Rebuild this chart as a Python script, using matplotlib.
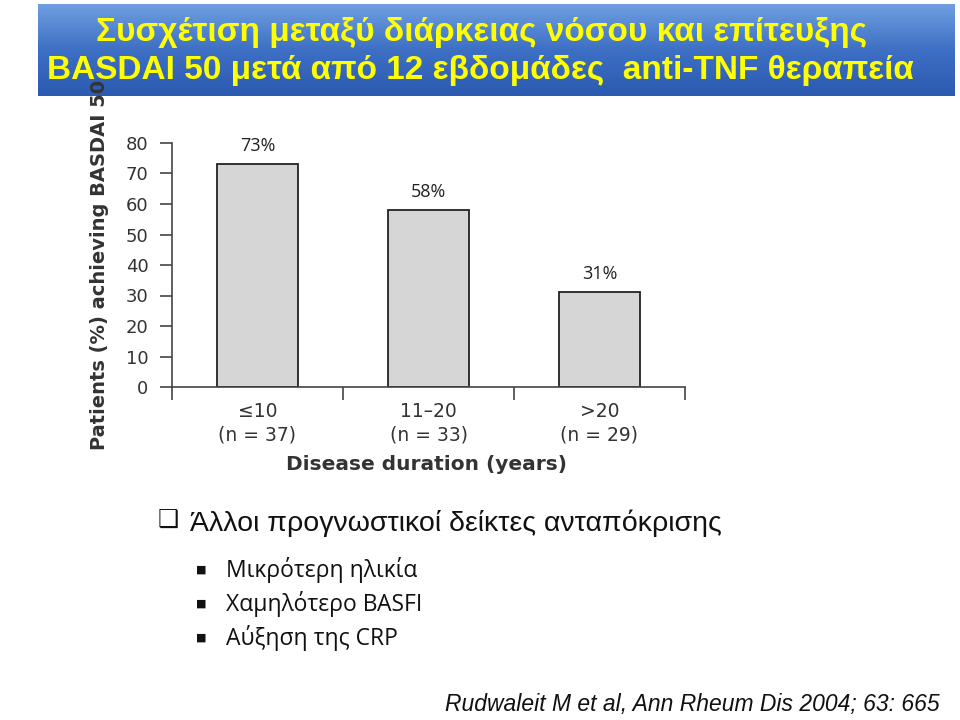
import numpy as np
import matplotlib.pyplot as plt
from matplotlib.colors import LinearSegmentedColormap

# data
categories = ["≤10\n(n = 37)", "11–20\n(n = 33)", ">20\n(n = 29)"]
values = [73, 58, 31]
value_labels = ["73%", "58%", "31%"]
yticks = [0, 10, 20, 30, 40, 50, 60, 70, 80]
title_lines = ["Συσχέτιση μεταξύ διάρκειας νόσου και επίτευξης",
               "BASDAI 50 μετά από 12 εβδομάδες  anti-TNF θεραπεία"]
main_bullet = "Άλλοι προγνωστικοί δείκτες ανταπόκρισης"
sub_bullets = ["Μικρότερη ηλικία", "Χαμηλότερο BASFI", "Αύξηση της CRP"]
citation = "Rudwaleit M et al, Ann Rheum Dis 2004; 63: 665"

W, H = 960, 720
fig = plt.figure(figsize=(9.6, 7.2), dpi=100)

def fx(x): return x / W
def fy(y): return 1 - y / H

# title box with vertical gradient
tax = fig.add_axes([fx(38), fy(96), fx(955) - fx(38), fy(4) - fy(96)])
grad = np.linspace(0, 1, 100).reshape(-1, 1)
cmap = LinearSegmentedColormap.from_list("tb", ["#6f9fe0", "#3d6fc4", "#2b5bb0"])
tax.imshow(grad, aspect="auto", cmap=cmap, extent=[0, 1, 0, 1])
tax.set_axis_off()
fig.text(fx(482), fy(32), title_lines[0], ha="center", va="center",
         fontsize=24, fontweight="bold", color="#ffff00", family="Liberation Sans")
fig.text(fx(480), fy(70), title_lines[1], ha="center", va="center",
         fontsize=24, fontweight="bold", color="#ffff00", family="Liberation Sans")

# bar chart
ax = fig.add_axes([fx(172), fy(387), fx(685) - fx(172), fy(143) - fy(387)])
x = np.arange(len(values))
ax.bar(x, values, width=0.47, color="#d6d6d6", edgecolor="#222222", linewidth=1.3)
for xi, v, lab in zip(x, values, value_labels):
    ax.text(xi, v + 3, lab, ha="center", va="bottom", fontsize=13,
            color="#222222", family="Open Sans")
ax.set_xlim(-0.5, len(values) - 0.5)
ax.set_ylim(0, 80)
ax.set_yticks(yticks)
ax.set_yticklabels([str(t) for t in yticks], fontsize=13, color="#333333")
ax.set_xticks([-0.5, 0.5, 1.5, 2.5])
ax.set_xticklabels([])
for xi, c in zip(x, categories):
    ax.text(xi, -5, c, ha="center", va="top", fontsize=13.5, color="#333333",
            linespacing=1.3)
ax.tick_params(axis="both", direction="out", length=9, width=1.2, color="#444444")
ax.tick_params(axis="y", pad=8)
for s in ["top", "right"]:
    ax.spines[s].set_visible(False)
for s in ["left", "bottom"]:
    ax.spines[s].set_color("#444444")
    ax.spines[s].set_linewidth(1.2)

fig.text(fx(100), fy(265), "Patients (%) achieving BASDAI 50", rotation=90,
         ha="center", va="center", fontsize=14, fontweight="bold", color="#333333")
fig.text(fx(427), fy(464), "Disease duration (years)", ha="center", va="center",
         fontsize=14.5, fontweight="bold", color="#333333")

# bullets
fig.text(fx(158), fy(521), "❑", ha="left", va="center", fontsize=17,
         color="#111111", family="DejaVu Sans")
fig.text(fx(190), fy(523), main_bullet, ha="left", va="center", fontsize=20.5,
         color="#111111", family="Liberation Sans")
for i, s in enumerate(sub_bullets):
    yy = 570 + i * 34
    fig.text(fx(196), fy(yy), "■", ha="left", va="center", fontsize=8, color="#111111")
    fig.text(fx(226), fy(yy), s, ha="left", va="center", fontsize=16.5,
             color="#111111", family="Open Sans")

fig.text(fx(940), fy(705), citation, ha="right", va="center", fontsize=16.5,
         style="italic", color="#111111", family="Liberation Sans")

fig.savefig("out.png", dpi=100)
